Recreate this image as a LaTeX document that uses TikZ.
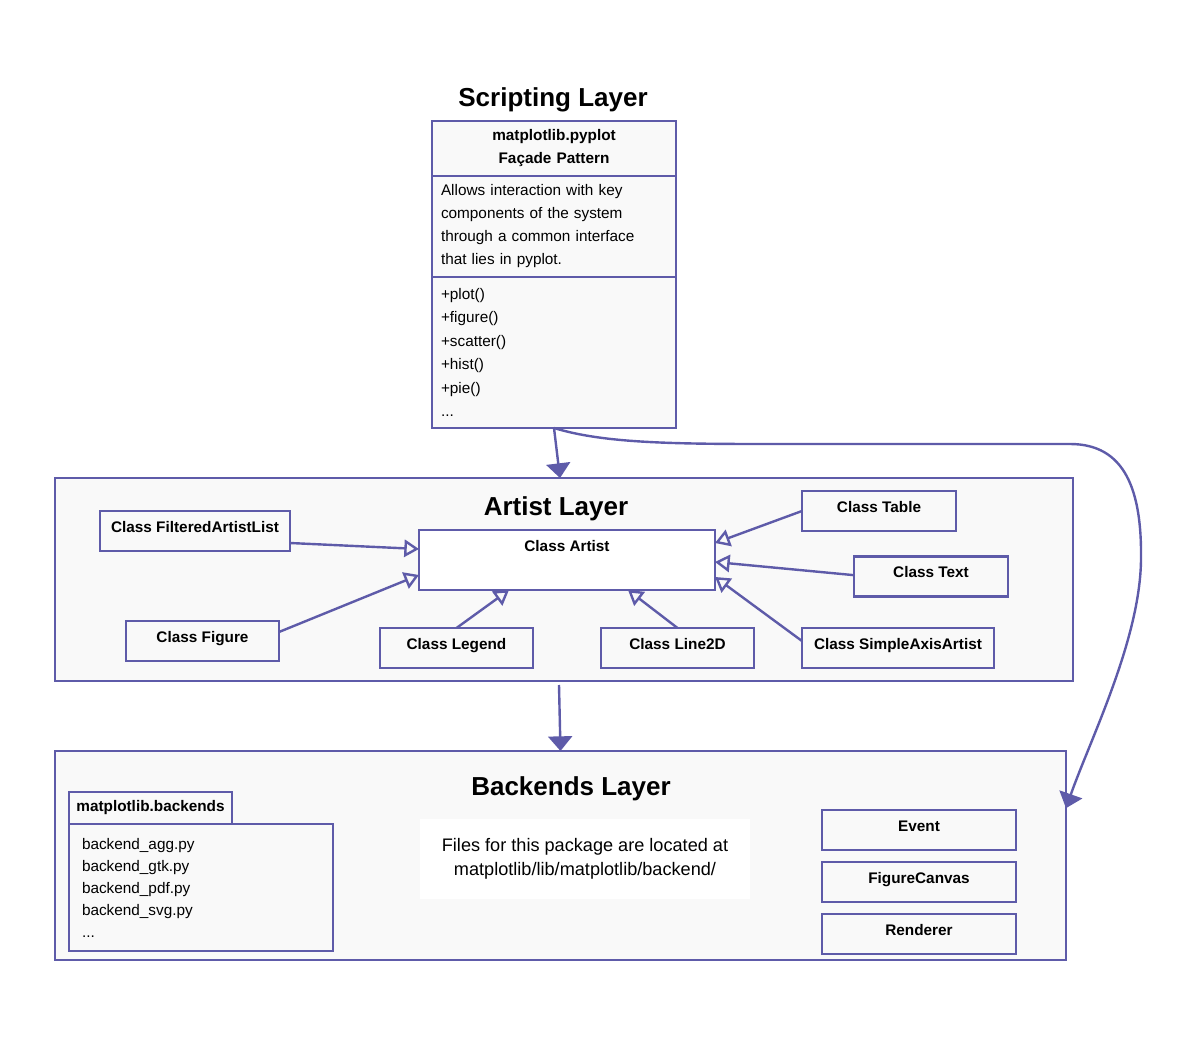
\documentclass[tikz,border=0pt]{standalone}
\usepackage{fontspec}
\setmainfont{Liberation Sans}
\usepackage{xcolor}
\usepackage{tikz}
\usetikzlibrary{positioning,calc,arrows.meta}
\definecolor{umlblue}{HTML}{5E5BA9}
\definecolor{boxgray}{HTML}{F9F9F9}

\begin{document}
\begin{tikzpicture}[x=0.75pt, y=-0.75pt,
    layer/.style={draw=umlblue, fill=boxgray, line width=1.8pt, inner sep=0pt, outer sep=0pt},
    layertitle/.style={font=\fontsize{19.5}{23}\selectfont\bfseries},
    cls/.style={draw=umlblue, fill=boxgray, line width=1.8pt, inner sep=0pt, outer sep=0pt,
        text height=15.75pt, text depth=14.25pt, font=\fontsize{11.5}{14}\selectfont\bfseries},
    part/.style={draw=umlblue, fill=boxgray, line width=1.8pt, outer sep=0pt, inner xsep=6.75pt,
        text width=169.5pt, align=left, font=\fontsize{11.5}{17.25}\selectfont},
    inherit/.style={draw=umlblue, line width=1.8pt, -{Triangle[open, length=11pt, width=13pt]}},
    flow/.style={draw=umlblue, line width=1.8pt, -{Triangle[length=11pt, width=18pt]}}
]
    \useasboundingbox (0,0) rectangle (1190,1042);

    % scripting layer
    \node[layertitle] (stitle) at (553,100) {Scripting Layer};
    \node[part, align=center, minimum height=41.25pt, font=\fontsize{11.5}{17.25}\selectfont\bfseries]
        (pyhead) at (554,148.5) {matplotlib.pyplot\\Façade Pattern};
    \node[part, minimum height=75.75pt, below=0pt of pyhead] (pydesc)
        {Allows interaction with key\\components of the system\\through a common interface\\that lies in pyplot.};
    \node[part, minimum height=113.25pt, below=0pt of pydesc, font=\fontsize{11.5}{17.6}\selectfont] (pymeth)
        {+plot()\\+figure()\\+scatter()\\+hist()\\+pie()\\...};

    % artist layer
    \node[layer, minimum width=763.5pt, minimum height=152.25pt] (artistlayer) at (564,579.5) {};
    \node[layertitle] (atitle) at (556,509) {Artist Layer};
    \node[cls, fill=white, minimum width=222pt, text height=16.1pt, text depth=28.9pt] (artist) at (567,560) {Class Artist};
    \node[cls, minimum width=142.5pt] (filtered) at (195,531) {Class FilteredArtistList};
    \node[cls, minimum width=114.75pt] (figurecls) at (202.5,641) {Class Figure};
    \node[cls, minimum width=114.75pt] (legendcls) at (456.5,648) {Class Legend};
    \node[cls, minimum width=114.75pt] (linecls) at (677.5,648) {Class Line2D};
    \node[cls, minimum width=115.5pt] (tablecls) at (879,511) {Class Table};
    \node[cls, minimum width=115.5pt] (textcls) at (931,576.5) {Class Text};
    \node[cls, minimum width=144pt] (axiscls) at (898,648) {Class SimpleAxisArtist};

    \draw[inherit] ([yshift=-9pt]filtered.east) -- ([yshift=8.25pt]artist.west);
    \draw[inherit] ([yshift=6.75pt]figurecls.east) -- ([yshift=-11.25pt]artist.west);
    \draw[inherit] (legendcls.north) -- ([xshift=-43.5pt]artist.south);
    \draw[inherit] (linecls.north) -- ([xshift=45.75pt]artist.south);
    \draw[inherit] (tablecls.west) -- ([yshift=12.75pt]artist.east);
    \draw[inherit] ([yshift=1pt]textcls.west) -- ([yshift=-1.5pt]artist.east);
    \draw[inherit] ([yshift=5.25pt]axiscls.west) -- ([yshift=-12.75pt]artist.east);

    % backends layer
    \node[layer, minimum width=758.25pt, minimum height=156.75pt] (backlayer) at (560.5,855.5) {};
    \node[layertitle] (btitle) at (571,789) {Backends Layer};
    \node[cls, minimum width=122.25pt, text height=14.6pt, text depth=9.4pt] (pkgtab) at (150.5,808) {matplotlib.backends};
    \node[part, anchor=north west, text width=178.5pt, inner xsep=9.75pt, minimum height=95.25pt,
        font=\fontsize{11.5}{16.5}\selectfont] (pkgbody) at (pkgtab.south west)
        {backend\_agg.py\\backend\_gtk.py\\backend\_pdf.py\\backend\_svg.py\\...};
    \node[fill=white, minimum width=247.5pt, minimum height=60pt, align=center,
        font=\fontsize{13.6}{18}\selectfont] (note) at (585,859)
        {Files for this package are located at\\matplotlib/lib/matplotlib/backend/};
    \node[cls, minimum width=145.5pt] (event) at (919,830) {Event};
    \node[cls, minimum width=145.5pt, below=9pt of event] (canvas) {FigureCanvas};
    \node[cls, minimum width=145.5pt, below=9pt of canvas] (renderer) {Renderer};

    % layer connections
    \draw[flow] (pymeth.south) -- ([xshift=-3pt]artistlayer.north);
    \draw[flow] ([xshift=-3.75pt,yshift=-3pt]artistlayer.south) -- (backlayer.north);
    \draw[flow] (pymeth.south) .. controls (600,442) and (660,444) .. (760,444) -- (1070,444)
        .. controls (1125,444) and (1142,490) .. (1141,560)
        .. controls (1140,640) and (1090,740) .. ([yshift=35.5pt]backlayer.east);
\end{tikzpicture}
\end{document}
